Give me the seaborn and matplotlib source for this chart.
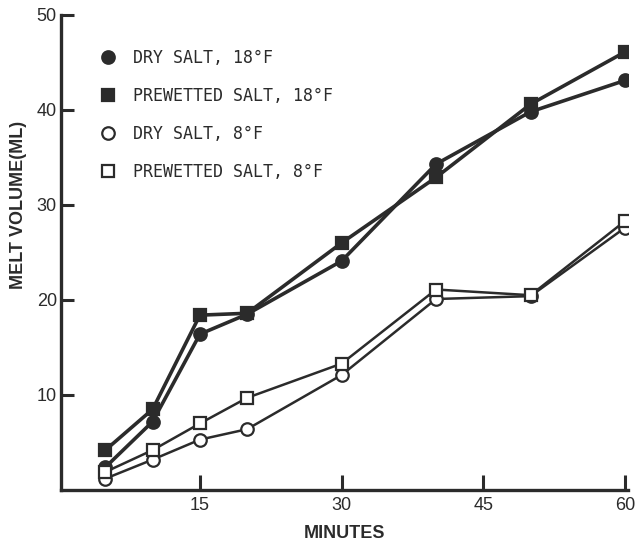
import pandas as pd
import numpy as np
import matplotlib
matplotlib.use("Agg")
import matplotlib.pyplot as plt
from matplotlib.lines import Line2D
import seaborn as sns

# Melt volume (ml)
minutes = [5, 10, 15, 20, 30, 40, 50, 60]
dry_18 = [2.4, 7.2, 16.4, 18.5, 24.1, 34.3, 39.8, 43.1]
wet_18 = [4.2, 8.5, 18.4, 18.6, 26.0, 32.9, 40.6, 46.1]
dry_8 = [1.2, 3.2, 5.3, 6.4, 12.1, 20.1, 20.4, 27.6]
wet_8 = [1.9, 4.2, 7.0, 9.7, 13.3, 21.1, 20.5, 28.3]

labels = ["DRY SALT, 18\u00b0F", "PREWETTED SALT, 18\u00b0F", "DRY SALT, 8\u00b0F", "PREWETTED SALT, 8\u00b0F"]
series = [dry_18, wet_18, dry_8, wet_8]

df = pd.concat([pd.DataFrame({"minutes": minutes, "melt": s, "series": lab})
                for s, lab in zip(series, labels)], ignore_index=True)

sns.set_style("ticks")
plt.rcParams['font.family'] = ['Liberation Sans', 'DejaVu Sans']

ink = "#2b2b2b"
styles = {
    labels[0]: dict(marker="o", mfc=ink, lw=2.6, ms=9),
    labels[1]: dict(marker="s", mfc=ink, lw=2.6, ms=9),
    labels[2]: dict(marker="o", mfc="white", lw=1.8, ms=9),
    labels[3]: dict(marker="s", mfc="white", lw=1.8, ms=9),
}

fig = plt.figure(figsize=(6.39, 5.43), dpi=100)
ax = fig.add_axes([0.0955, 0.0976, 0.887, 0.875])

for lab in labels:
    st = styles[lab]
    sns.lineplot(data=df[df.series == lab], x="minutes", y="melt", ax=ax,
                 color=ink, linewidth=st["lw"], marker=st["marker"],
                 markersize=st["ms"], markerfacecolor=st["mfc"],
                 markeredgecolor=ink, markeredgewidth=1.6, legend=False)

ax.set_xlim(0.3, 60.3)
ax.set_ylim(0, 50)
ax.set_xticks([15, 30, 45, 60])
ax.set_yticks([10, 20, 30, 40, 50])
sns.despine(ax=ax)
for sp in ["left", "bottom"]:
    ax.spines[sp].set_linewidth(2.4)
    ax.spines[sp].set_color(ink)
ax.tick_params(axis="y", direction="in", length=9, width=2.2, pad=3,
               labelsize=13, colors=ink)
ax.tick_params(axis="x", direction="in", length=11, width=2.2, pad=5,
               labelsize=13, colors=ink)

ax.set_xlabel("MINUTES", fontsize=13, fontweight="bold", color=ink, labelpad=8)
ax.set_ylabel("MELT VOLUME(ML)", fontsize=13, fontweight="bold", color=ink)
ax.yaxis.set_label_coords(-0.06, 0.6)

handles = [Line2D([], [], linestyle="none", marker=styles[l]["marker"],
                  markersize=styles[l]["ms"], markerfacecolor=styles[l]["mfc"],
                  markeredgecolor=ink, markeredgewidth=1.6) for l in labels]
ax.legend(handles, labels, loc="upper left", bbox_to_anchor=(0.027, 0.96),
          frameon=False, handletextpad=0.5, labelspacing=1.2,
          prop={"family": ["DejaVu Sans Mono"], "size": 12},
          labelcolor=ink)

fig.savefig("out.png", dpi=100)
